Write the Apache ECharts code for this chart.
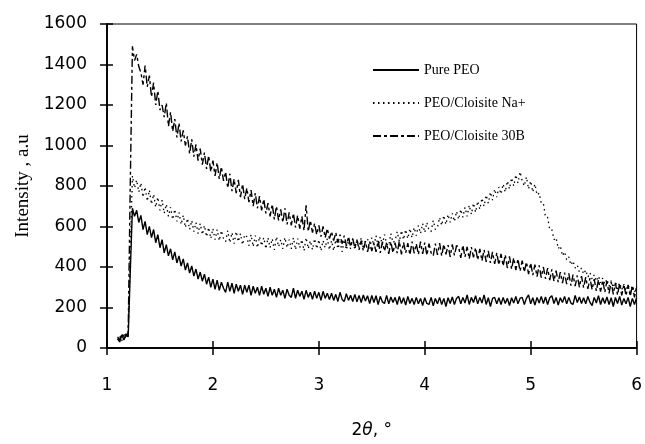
<!DOCTYPE html>
<html>
<head>
<meta charset="utf-8">
<script src="https://cdn.jsdelivr.net/npm/echarts@6/dist/echarts.min.js"></script>
<style>html,body{margin:0;padding:0;background:#fff;}#c{width:645px;height:444px;}</style>
</head>
<body>
<div id="c"></div>
<script>
// 2θ sampling grid (degrees)
const xStart = 1.10, xStep = 0.02;
const legendNames = ['Pure PEO', 'PEO/Cloisite Na+', 'PEO/Cloisite 30B'];
const xTicks = [1, 2, 3, 4, 5, 6];
const yTicks = [0, 200, 400, 600, 800, 1000, 1200, 1400, 1600];

const purePEO = [
45,30,65,40,70,55,
380,690,650,680,620,
655,585,625,560,600,545,585,520,560,495,
535,470,510,455,490,435,475,420,455,405,
440,385,420,370,405,355,390,340,375,330,
365,315,350,300,340,290,335,285,325,295,
275,325,280,320,270,315,280,310,265,310,
275,310,260,305,270,300,260,305,265,295,
255,300,260,290,250,295,260,285,245,290,
260,250,295,245,285,255,280,240,285,250,
275,240,280,245,275,235,280,245,270,240,
270,235,265,230,275,240,230,268,235,260,
230,265,228,260,225,262,232,258,220,260,
225,258,215,255,228,220,260,218,252,225,
250,215,255,220,248,212,255,220,245,215,
250,218,245,210,248,220,215,250,208,245,
218,250,215,245,205,248,220,252,215,245,
255,218,250,222,262,215,250,225,258,218,
250,222,262,215,248,205,245,250,218,248,
215,250,220,245,210,248,222,255,218,246,
250,215,245,262,218,248,212,250,222,255,
220,252,215,248,258,220,250,212,248,225,
255,218,250,222,215,260,225,252,220,248,
218,255,225,210,250,222,258,215,248,220,
252,215,248,205,250,220,255,212,245,218,
250,205,245,215,248
];

const cloisiteNa = [
40,60,35,75,50,65,
480,850,790,830,770,
815,745,795,725,780,710,760,695,745,680,
730,665,710,650,695,635,685,625,670,610,
655,595,640,585,630,575,620,565,615,560,
605,550,595,540,590,535,585,530,580,540,
525,580,520,570,515,575,525,565,510,560,
550,505,560,500,555,495,550,505,545,490,
545,495,540,485,550,500,535,490,545,495,
535,490,545,485,540,495,535,480,545,490,
530,485,540,490,535,480,530,495,540,485,
530,480,535,490,525,475,535,485,530,490,
540,485,535,495,545,490,530,540,490,545,
505,555,500,550,510,560,515,505,565,520,
530,575,525,580,535,585,540,590,545,595,
555,605,565,615,570,620,580,575,630,585,
595,645,605,655,610,660,620,665,625,675,
635,685,645,695,650,705,660,715,670,725,
685,740,700,755,715,770,730,785,745,795,
760,810,770,825,785,840,800,855,815,870,
825,800,845,785,825,770,810,755,765,715,
715,645,645,585,585,535,545,490,505,455,
475,435,450,410,430,395,410,375,395,365,
385,350,372,340,362,330,355,322,345,315,
340,305,332,298,325,292,322,288,315,282,
312,278,308,275,302
];

const cloisite30B = [
55,40,70,45,60,75,
820,1490,1420,1450,1390,
1360,1300,1395,1290,1345,1240,1310,1200,1270,1175,
1200,1140,1210,1095,1165,1070,1130,1040,1110,1020,
1075,1000,1045,960,1030,945,1005,925,985,905,
965,885,950,870,925,850,915,835,895,825,
870,790,860,775,835,765,830,745,810,735,
790,720,780,700,765,690,750,680,735,665,
715,650,710,635,700,630,685,620,690,610,
670,605,665,595,655,590,650,580,705,575,
630,570,615,560,605,550,600,545,590,540,
575,530,570,520,560,515,555,505,550,500,
540,495,535,485,530,480,528,475,525,478,
520,475,530,470,525,478,520,465,525,470,
520,468,528,462,522,470,518,460,525,468,
515,462,525,465,520,458,515,470,455,515,
460,518,455,512,462,508,450,512,458,505,
500,445,508,450,500,440,498,448,495,435,
490,430,485,425,480,420,475,415,470,410,
465,405,460,395,452,390,445,385,440,380,
432,375,425,365,420,360,412,352,408,348,
400,342,395,335,388,330,382,325,375,320,
372,315,368,308,362,305,358,300,355,298,
350,292,345,288,340,282,338,278,335,275,
330,270,325,265,322,262,318,260,315,258,
312,255,308,250,305
];

function pairs(ys) {
  return ys.map((y, i) => [+(xStart + i * xStep).toFixed(2), y]);
}

const chart = echarts.init(document.getElementById('c'), null, {renderer: 'canvas'});
const axisLine = {show: true, lineStyle: {color: '#000', width: 1.5}};
const baseX = {
  type: 'value', min: xTicks[0], max: xTicks[xTicks.length - 1], interval: 1,
  splitLine: {show: false}, axisLine: axisLine
};
const baseY = {
  type: 'value', min: yTicks[0], max: yTicks[yTicks.length - 1], interval: 200,
  splitLine: {show: false}, axisLine: axisLine
};
chart.setOption({
  animation: false,
  backgroundColor: '#fff',
  grid: {left: 107, right: 6, top: 24, bottom: 95, show: true, borderColor: '#000', borderWidth: 1, backgroundColor: 'transparent'},
  legend: {
    orient: 'vertical', left: 372, top: 63, padding: 0,
    itemWidth: 46, itemHeight: 14, itemGap: 19,
    data: legendNames,
    itemStyle: {opacity: 0},
    textStyle: {fontFamily: 'Liberation Serif', fontSize: 14, color: '#000'}
  },
  xAxis: [
    Object.assign({}, baseX, {
      position: 'bottom',
      axisTick: {show: true, inside: false, length: 7, lineStyle: {color: '#000', width: 1.5}},
      axisLabel: {margin: 29, fontFamily: 'DejaVu Sans', fontSize: 17, color: '#000'},
      name: '2{i|θ}, °', nameLocation: 'middle', nameGap: 74,
      nameTextStyle: {fontFamily: 'DejaVu Sans', fontSize: 17, color: '#000',
        rich: {i: {fontFamily: 'DejaVu Sans', fontStyle: 'italic', fontSize: 17, color: '#000'}}}
    }),
    Object.assign({}, baseX, {
      position: 'bottom',
      axisTick: {show: true, inside: true, length: 7, lineStyle: {color: '#000', width: 1.5}},
      axisLabel: {show: false}
    })
  ],
  yAxis: [
    Object.assign({}, baseY, {
      position: 'left',
      axisTick: {show: true, inside: false, length: 7, lineStyle: {color: '#000', width: 1.5}},
      axisLabel: {margin: 20, fontFamily: 'DejaVu Sans', fontSize: 17, color: '#000',
        formatter: function (v) { return String(v); }},
      name: 'Intensity , a.u', nameLocation: 'middle', nameGap: 71,
      nameTextStyle: {fontFamily: 'Liberation Serif', fontSize: 19, color: '#000'}
    }),
    Object.assign({}, baseY, {
      position: 'left', offset: 0,
      axisTick: {show: true, inside: true, length: 6, lineStyle: {color: '#000', width: 1.5}},
      axisLabel: {show: false}
    })
  ],
  series: [
    {name: legendNames[0], type: 'line', data: pairs(purePEO), symbol: 'circle', showSymbol: false,
     lineStyle: {color: '#000', width: 1.4, type: 'solid'}, itemStyle: {color: '#000'}},
    {name: legendNames[1], type: 'line', data: pairs(cloisiteNa), symbol: 'circle', showSymbol: false,
     lineStyle: {color: '#000', width: 1.3, type: [1.5, 3.5]}, itemStyle: {color: '#000'}},
    {name: legendNames[2], type: 'line', data: pairs(cloisite30B), symbol: 'circle', showSymbol: false,
     lineStyle: {color: '#000', width: 1.4, type: [8, 3, 3, 3]}, itemStyle: {color: '#000'}}
  ]
});
</script>
</body>
</html>
